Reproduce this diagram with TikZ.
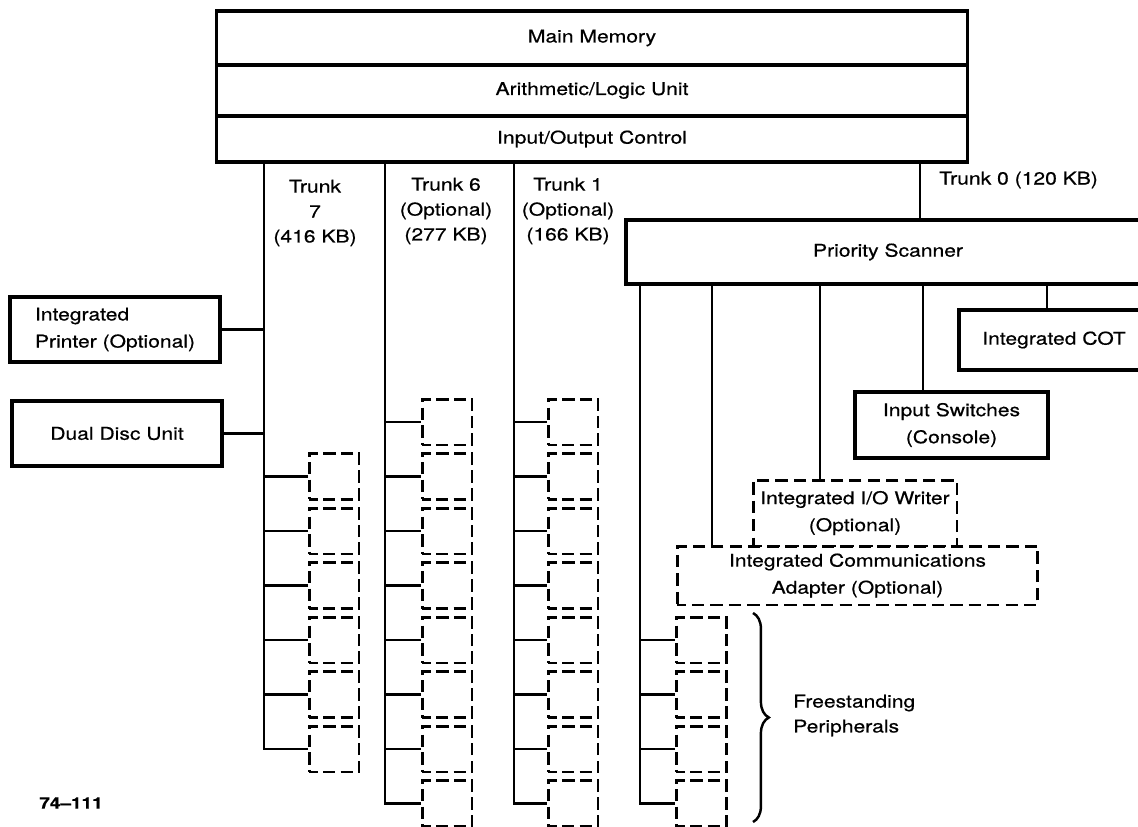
\documentclass[tikz,border=0pt]{standalone}
\usepackage{fontspec}
\setmainfont[FakeStretch=1.2, FakeBold=0.6]{TeX Gyre Heros}
\usetikzlibrary{positioning,decorations.pathreplacing}

\begin{document}
\begin{tikzpicture}[x=0.02cm, y=-0.02cm]
			\tikzstyle{Unit}	= [draw, line width=1.9pt, inner sep=0pt, align=center, font=\fontsize{10}{15.4}\selectfont]
			\tikzstyle{Optional}	= [Unit, line width=1.7pt, dash pattern=on 7pt off 3.5pt, dash phase=2pt]
			\tikzstyle{Slot}	= [draw, line width=1.7pt, dash pattern=on 7pt off 3pt, dash phase=2pt, minimum width=1cm, minimum height=0.92cm, inner sep=0pt]
			\tikzstyle{Bus}		= [line width=1.3pt]
			\tikzstyle{Tag}		= [align=center, font=\fontsize{10}{14.2}\selectfont]

			\useasboundingbox (0,0) rectangle (1138,827);
			\clip (0,0) rectangle (1138,827);

			% processor
			\node (mm) at (592,38) [Unit, minimum width=15.02cm, minimum height=1.08cm] {Main Memory};
			\node (alu) at (592,90.5) [Unit, minimum width=15.02cm, minimum height=1.02cm] {Arithmetic/Logic Unit};
			\node (ioc) at (592,139) [Unit, minimum width=15.02cm, minimum height=0.92cm] {Input/Output Control};

			% trunks
			\coordinate (t7) at (264,0);
			\coordinate (t6) at (385,0);
			\coordinate (t1) at (514,0);
			\coordinate (t0) at (920,0);
			\coordinate (tf) at (640,0);
			\node (lab7) at (315,213) [Tag] {Trunk\\7\\(416 KB)};
			\node (lab6) at (446,211) [Tag] {Trunk 6\\(Optional)\\(277 KB)};
			\node (lab1) at (568,211) [Tag] {Trunk 1\\(Optional)\\(166 KB)};
			\node (lab0) at (933,180) [Tag, anchor=west] {Trunk 0 (120 KB)};

			\node (prt) at (115,329.5) [Unit, align=left, minimum width=4.2cm, minimum height=1.3cm] {Integrated\\Printer (Optional)};
			\node (ddu) at (117,433.5) [Unit, minimum width=4.2cm, minimum height=1.3cm] {Dual Disc Unit};

			\node (ps) at (888,252) [Unit, minimum width=10.48cm, minimum height=1.28cm] {Priority Scanner};
			\node (cot) at (1054,340) [Unit, minimum width=3.8cm, minimum height=1.2cm] {Integrated COT};
			\node (isw) at (951.5,425) [Unit, minimum width=3.86cm, minimum height=1.32cm] {Input Switches\\(Console)};
			\node (iow) at (855,513) [Optional, minimum width=4.08cm, minimum height=1.32cm] {Integrated I/O Writer\\(Optional)};
			\node (ica) at (857.5,575.5) [Optional, minimum width=7.22cm, minimum height=1.18cm] {Integrated Communications\\Adapter (Optional)};

			% peripheral slots
			\foreach \i in {2,...,7}
				\node (seven\i) at (334,{422+(\i-1)*54.5}) [Slot] {};
			\foreach \i in {1,...,8}
				\node (six\i) at (447,{422+(\i-1)*54.5}) [Slot] {};
			\foreach \i in {1,...,8}
				\node (one\i) at (573,{422+(\i-1)*54.5}) [Slot] {};
			\foreach \i in {5,...,8}
				\node (free\i) at (701,{422+(\i-1)*54.5}) [Slot] {};

			\draw [Bus] (ioc.south -| t7) -- (seven7.west -| t7) -- (seven7.west);
			\draw [Bus] (ioc.south -| t6) -- (six8.west -| t6) -- (six8.west);
			\draw [Bus] (ioc.south -| t1) -- (one8.west -| t1) -- (one8.west);
			\draw [Bus] (ps.south -| tf) -- (free8.west -| tf) -- (free8.west);
			\draw [Bus] (ioc.south -| t0) -- (ps.north -| t0);

			\draw [Bus] (prt.east) -- (prt.east -| t7);
			\draw [Bus] (ddu.east) -- (ddu.east -| t7);
			\foreach \i in {2,...,6}
				\draw [Bus] (seven\i.west -| t7) -- (seven\i.west);
			\foreach \i in {1,...,7}
				\draw [Bus] (six\i.west -| t6) -- (six\i.west);
			\foreach \i in {1,...,7}
				\draw [Bus] (one\i.west -| t1) -- (one\i.west);
			\foreach \i in {5,...,7}
				\draw [Bus] (free\i.west -| tf) -- (free\i.west);

			% scanner drops
			\coordinate (dica) at (712,0);
			\coordinate (diow) at (820,0);
			\coordinate (disw) at (923,0);
			\coordinate (dcot) at (1047,0);
			\draw [Bus] (ps.south -| dica) -- (ica.north -| dica);
			\draw [Bus] (ps.south -| diow) -- (iow.north -| diow);
			\draw [Bus] (ps.south -| disw) -- (isw.north -| disw);
			\draw [Bus] (ps.south -| dcot) -- (cot.north -| dcot);

			\draw [decorate, decoration={brace, amplitude=9pt}, line width=1.4pt] (753,613) -- (753,822);
			\node (fp) at (787,715.5) [Tag, anchor=west, align=left] {Freestanding\\Peripherals};

			\node (fig) at (71,803) [font=\bfseries\fontsize{9}{10}\selectfont] {74--111};
		\end{tikzpicture}
\end{document}
